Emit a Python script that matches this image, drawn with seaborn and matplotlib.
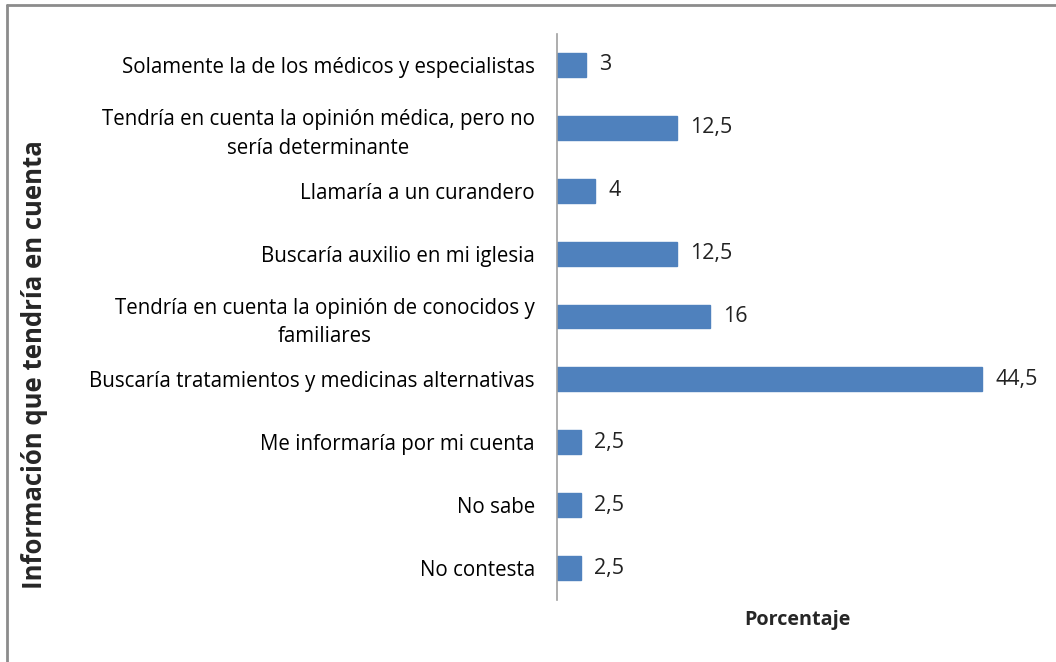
import matplotlib
matplotlib.use("Agg")
import matplotlib.pyplot as plt
import seaborn as sns
import pandas as pd
from matplotlib.lines import Line2D

categories = [
    "Solamente la de los médicos y especialistas",
    "Tendría en cuenta la opinión médica, pero no\nsería determinante",
    "Llamaría a un curandero",
    "Buscaría auxilio en mi iglesia",
    "Tendría en cuenta la opinión de conocidos y\nfamiliares",
    "Buscaría tratamientos y medicinas alternativas",
    "Me informaría por mi cuenta",
    "No sabe",
    "No contesta",
]
values = [3, 12.5, 4, 12.5, 16, 44.5, 2.5, 2.5, 2.5]
value_labels = ["3", "12,5", "4", "12,5", "16", "44,5", "2,5", "2,5", "2,5"]

sns.set_style("white")
plt.rcParams["font.family"] = ["Open Sans", "DejaVu Sans"]

df = pd.DataFrame({"cat": categories, "val": values})

W, H = 1056, 662
fig = plt.figure(figsize=(W / 100, H / 100), dpi=100)
left, right, top, bottom = 557, 1035, 33.5, 599.5
ax = fig.add_axes([left / W, 1 - bottom / H, (right - left) / W, (bottom - top) / H])
sns.barplot(data=df, y="cat", x="val", orient="h", color="#4F81BD",
            width=0.38, saturation=1, ax=ax, edgecolor="#4F81BD")
ax.set_xlim(0, 50)
ax.set_ylim(len(categories) - 0.5, -0.5)
ax.set_xticks([])
ax.set_ylabel("Información que tendría en cuenta", fontsize=18.5, fontweight="bold")
ax.set_xlabel("Porcentaje", fontsize=14.2, fontweight="bold")
ax.tick_params(axis="y", length=0, labelsize=14.8, pad=16, colors="#000000")
for lab in ax.get_yticklabels():
    lab.set_multialignment("center")
    lab.set_linespacing(1.45)
for s in ["top", "right", "bottom"]:
    ax.spines[s].set_visible(False)
ax.spines["left"].set_color("#A0A0A0")
ax.spines["left"].set_linewidth(1.2)

for i, (v, t) in enumerate(zip(values, value_labels)):
    ax.text(v + 1.4, i, t, va="center", ha="left", fontsize=15.5, color="#222222")

# axis title positions in figure pixels
ax.yaxis.set_label_coords(35 / W, 1 - 365 / H, transform=fig.transFigure)
ax.xaxis.set_label_coords(797 / W, 1 - 620 / H, transform=fig.transFigure)
ax.xaxis.label.set_va("center")
ax.yaxis.label.set_va("center")

fig.add_artist(Line2D([7 / W, 1], [1 - 5 / H, 1 - 5 / H], transform=fig.transFigure,
                      color="#8C8C8C", lw=2))
fig.add_artist(Line2D([7 / W, 7 / W], [0, 1 - 5 / H], transform=fig.transFigure,
                      color="#8C8C8C", lw=2))

fig.savefig("out.png", dpi=100)
